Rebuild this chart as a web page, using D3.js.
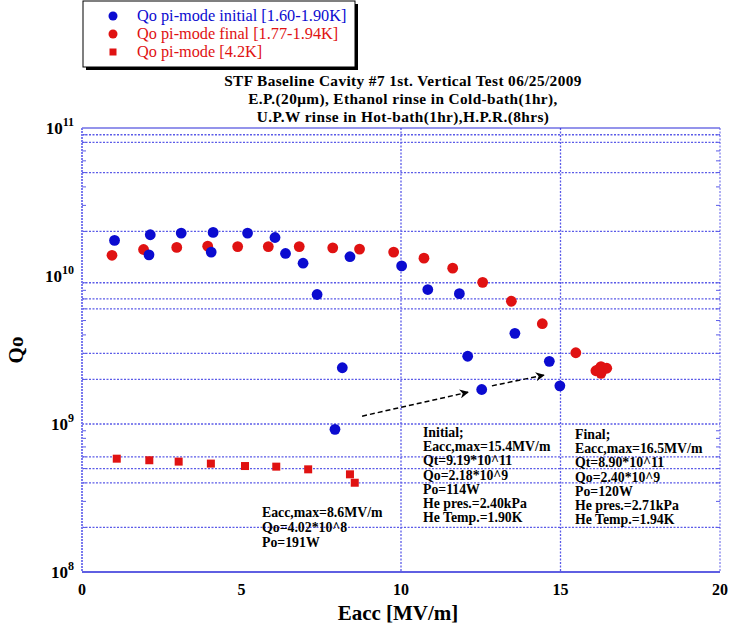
<!DOCTYPE html>
<html>
<head>
<meta charset="utf-8">
<script src="https://cdn.jsdelivr.net/npm/d3@7"></script>
<style>
  body { margin: 0; background: #fff; }
  svg text { font-family: "Liberation Serif", "Times New Roman", serif; }
</style>
</head>
<body>
<svg id="chart" width="731" height="632"></svg>
<script>
// Qo pi-mode initial [1.60-1.90K]
var initialEacc = [1.02, 2.10, 2.14, 3.11, 4.05, 4.11, 5.19, 6.05, 6.38, 6.93, 7.37, 7.93, 8.16, 8.40,
                   10.02, 10.84, 11.83, 12.09, 12.53, 13.57, 14.65, 14.98];
var initialQo   = [1.74e10, 1.39e10, 1.90e10, 1.95e10, 1.45e10, 1.97e10, 1.95e10, 1.82e10, 1.42e10, 1.22e10, 7.5e9, 9.2e8, 2.40e9, 1.35e10,
                   1.17e10, 8.1e9, 7.6e9, 2.87e9, 1.71e9, 4.10e9, 2.65e9, 1.81e9];
// Qo pi-mode final [1.77-1.94K]
var finalEacc = [0.94, 1.93, 2.97, 3.94, 4.88, 5.84, 6.81, 7.86, 8.70, 9.77, 10.72, 11.62, 12.56, 13.46,
                 14.43, 15.48, 16.11, 16.27, 16.45, 16.27, 16.20];
var finalQo   = [1.38e10, 1.51e10, 1.56e10, 1.59e10, 1.58e10, 1.58e10, 1.58e10, 1.55e10, 1.52e10, 1.45e10, 1.32e10, 1.13e10, 9.06e9, 6.75e9,
                 4.76e9, 3.03e9, 2.29e9, 2.44e9, 2.38e9, 2.20e9, 2.34e9];
// Qo pi-mode [4.2K]
var warmEacc = [1.09, 2.11, 3.03, 4.04, 5.11, 6.09, 7.09, 8.40, 8.55];
var warmQo   = [5.83e8, 5.69e8, 5.57e8, 5.40e8, 5.20e8, 5.15e8, 4.94e8, 4.57e8, 4.01e8];

var xTicks = [0, 5, 10, 15, 20];
var yDecades = [8, 9, 10, 11];
var yGridValues = [9e10, 8e10, 5e10, 2e10, 9e9, 7e9, 6e9, 3e9, 2e9, 1e9, 6e8, 5e8, 4e8, 2e8];
var xGridValues = [10, 15];

var legendLabels = ["Qo pi-mode initial [1.60-1.90K]", "Qo pi-mode final [1.77-1.94K]", "Qo pi-mode [4.2K]"];
var titleLines = ["STF Baseline Cavity #7 1st. Vertical Test 06/25/2009",
                  "E.P.(20\u03bcm), Ethanol rinse in Cold-bath(1hr),",
                  "U.P.W rinse in Hot-bath(1hr),H.P.R.(8hrs)"];
var initialNote = ["Initial;", "Eacc,max=15.4MV/m", "Qt=9.19*10^11", "Qo=2.18*10^9", "Po=114W", "He pres.=2.40kPa", "He Temp.=1.90K"];
var finalNote = ["Final;", "Eacc,max=16.5MV/m", "Qt=8.90*10^11", "Qo=2.40*10^9", "Po=120W", "He pres.=2.71kPa", "He Temp.=1.94K"];
var warmNote = ["Eacc,max=8.6MV/m", "Qo=4.02*10^8", "Po=191W"];
// arrows: [x1, y1, x2, y2] in data units
var arrows = [[8.78, 1.13e9, 12.1, 1.64e9], [12.85, 1.81e9, 14.48, 2.14e9]];

var BLUE = "#0b0bd0", RED = "#e01212", FRAME = "#2a2ad8", GRID = "#5b5be8";

var svg = d3.select("#chart");
var x = d3.scaleLinear().domain([0, 20]).range([82, 720]);
var y = d3.scaleLog().domain([1e8, 1e11]).range([572, 128]);

// marker defs for arrows
svg.append("defs").append("marker")
    .attr("id", "head")
    .attr("viewBox", "0 0 10 10")
    .attr("refX", 9).attr("refY", 5)
    .attr("markerWidth", 12).attr("markerHeight", 9)
    .attr("markerUnits", "userSpaceOnUse")
    .attr("orient", "auto")
  .append("path")
    .attr("d", "M0,0 L10,5 L0,10 L3,5 Z")
    .attr("fill", "#000");

// gridlines
var grid = svg.append("g");
grid.selectAll("line.h").data(yGridValues).enter().append("line")
    .attr("x1", x(0)).attr("x2", x(20))
    .attr("y1", function(d) { return y(d); }).attr("y2", function(d) { return y(d); })
    .attr("stroke", GRID).attr("stroke-width", 1.3).attr("stroke-dasharray", "2,1.5");
grid.selectAll("line.v").data(xGridValues).enter().append("line")
    .attr("x1", function(d) { return x(d); }).attr("x2", function(d) { return x(d); })
    .attr("y1", y(1e11)).attr("y2", y(1e8))
    .attr("stroke", GRID).attr("stroke-width", 1.3).attr("stroke-dasharray", "2,1.5");

// small minor ticks on left/right axes
var minor = [];
yDecades.slice(0, 3).forEach(function(e) {
    for (var m = 2; m <= 9; m++) minor.push(m * Math.pow(10, e));
});
grid.selectAll("line.tl").data(minor).enter().append("line")
    .attr("x1", x(0)).attr("x2", x(0) + 4)
    .attr("y1", function(d) { return y(d); }).attr("y2", function(d) { return y(d); })
    .attr("stroke", GRID).attr("stroke-width", 1);
grid.selectAll("line.tr").data(minor).enter().append("line")
    .attr("x1", x(20) - 4).attr("x2", x(20))
    .attr("y1", function(d) { return y(d); }).attr("y2", function(d) { return y(d); })
    .attr("stroke", GRID).attr("stroke-width", 1);

// frame
svg.append("line").attr("x1", x(0)).attr("x2", x(20)).attr("y1", y(1e8)).attr("y2", y(1e8))
    .attr("stroke", FRAME).attr("stroke-width", 1.5);
svg.append("line").attr("x1", x(0)).attr("x2", x(20)).attr("y1", y(1e11)).attr("y2", y(1e11))
    .attr("stroke", FRAME).attr("stroke-width", 1.2);
svg.append("line").attr("x1", x(0)).attr("x2", x(0)).attr("y1", y(1e11)).attr("y2", y(1e8))
    .attr("stroke", "#7a7aee").attr("stroke-width", 2).attr("stroke-dasharray", "2,1");
svg.append("line").attr("x1", x(20)).attr("x2", x(20)).attr("y1", y(1e11)).attr("y2", y(1e8))
    .attr("stroke", GRID).attr("stroke-width", 1).attr("stroke-dasharray", "2,1.5");

// x tick labels
svg.selectAll("text.xt").data(xTicks).enter().append("text")
    .attr("x", function(d) { return x(d); }).attr("y", 595)
    .attr("text-anchor", "middle").attr("font-size", 16).attr("font-weight", "bold")
    .text(function(d) { return d; });

// y tick labels (10^n)
var yt = svg.selectAll("text.yt").data(yDecades).enter().append("text")
    .attr("x", 74).attr("y", function(d) { return y(Math.pow(10, d)) + 6; })
    .attr("text-anchor", "end").attr("font-size", 17).attr("font-weight", "bold");
yt.append("tspan").text("10");
yt.append("tspan").attr("dy", -8).attr("font-size", 12).text(function(d) { return d; });

// axis titles
svg.append("text").attr("x", 398).attr("y", 620).attr("text-anchor", "middle")
    .attr("font-size", 21).attr("font-weight", "bold").text("Eacc [MV/m]");
svg.append("text").attr("transform", "translate(23,350) rotate(-90)").attr("text-anchor", "middle")
    .attr("font-size", 21).attr("font-weight", "bold").text("Qo");

// title
svg.selectAll("text.title").data(titleLines).enter().append("text")
    .attr("x", 403).attr("y", function(d, i) { return 86 + i * 18; })
    .attr("text-anchor", "middle").attr("font-size", 15.3).attr("font-weight", "bold")
    .attr("letter-spacing", 0.4)
    .text(function(d) { return d; });

// data points
var pts = svg.append("g");
pts.selectAll("circle.fin").data(d3.zip(finalEacc, finalQo)).enter().append("circle")
    .attr("cx", function(d) { return x(d[0]); }).attr("cy", function(d) { return y(d[1]); })
    .attr("r", 5.4).attr("fill", RED);
pts.selectAll("circle.ini").data(d3.zip(initialEacc, initialQo)).enter().append("circle")
    .attr("cx", function(d) { return x(d[0]); }).attr("cy", function(d) { return y(d[1]); })
    .attr("r", 5.4).attr("fill", BLUE);
pts.selectAll("rect.warm").data(d3.zip(warmEacc, warmQo)).enter().append("rect")
    .attr("x", function(d) { return x(d[0]) - 4; }).attr("y", function(d) { return y(d[1]) - 4; })
    .attr("width", 8).attr("height", 8).attr("fill", RED);

// arrows
svg.selectAll("line.arrow").data(arrows).enter().append("line")
    .attr("x1", function(d) { return x(d[0]); }).attr("y1", function(d) { return y(d[1]); })
    .attr("x2", function(d) { return x(d[2]); }).attr("y2", function(d) { return y(d[3]); })
    .attr("stroke", "#000").attr("stroke-width", 1.5).attr("stroke-dasharray", "5,3")
    .attr("marker-end", "url(#head)");

// annotation blocks
function note(lines, left, top, step) {
    svg.append("g").selectAll("text").data(lines).enter().append("text")
        .attr("x", left).attr("y", function(d, i) { return top + i * step; })
        .attr("font-size", 13.8).attr("font-weight", "bold")
        .text(function(d) { return d; });
}
note(initialNote, 423, 437, 14.2);
note(finalNote, 575, 439, 14.2);
note(warmNote, 262, 517, 15);

// legend
var lg = svg.append("g");
lg.append("rect").attr("x", 86).attr("y", 4).attr("width", 272).attr("height", 66).attr("fill", "#000");
lg.append("rect").attr("x", 83).attr("y", 1).attr("width", 272).attr("height", 66)
    .attr("fill", "#fff").attr("stroke", "#000").attr("stroke-width", 1);
var legendColors = [BLUE, RED, RED];
legendLabels.forEach(function(label, i) {
    var cy = 16 + i * 18;
    if (i < 2) {
        lg.append("circle").attr("cx", 113).attr("cy", cy).attr("r", 4.5).attr("fill", legendColors[i]);
    } else {
        lg.append("rect").attr("x", 109.5).attr("y", cy - 3.5).attr("width", 7).attr("height", 7).attr("fill", legendColors[i]);
    }
    lg.append("text").attr("x", 137).attr("y", cy + 5)
        .attr("font-size", 16.3).attr("fill", legendColors[i]).text(label);
});
</script>
</body>
</html>
